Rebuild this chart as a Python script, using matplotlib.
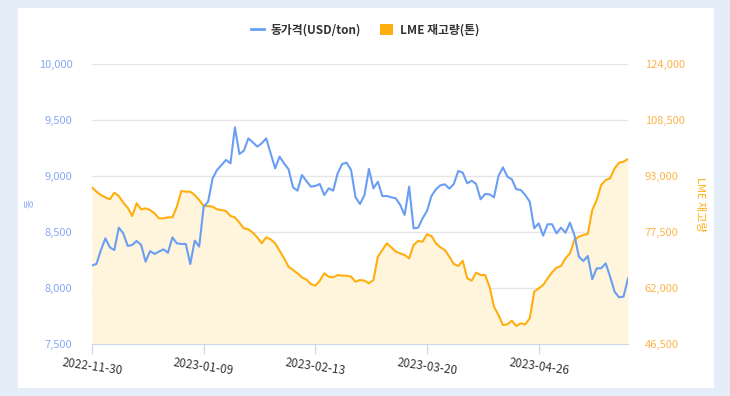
import numpy as np
import matplotlib.pyplot as plt
from matplotlib.lines import Line2D
from matplotlib.patches import Patch, Rectangle

plt.rcParams['font.family'] = ['Noto Sans CJK KR', 'DejaVu Sans']

# copper price (USD/ton), daily
copper_price = [
    8200, 8215, 8339, 8444, 8363, 8339, 8539, 8488, 8375, 8384,
    8420, 8384, 8235, 8330, 8304, 8325, 8345, 8315, 8452, 8399,
    8393, 8393, 8214, 8423, 8370, 8726, 8771, 8979, 9054, 9098,
    9143, 9113, 9435, 9196, 9226, 9336, 9301, 9262, 9292, 9336,
    9202, 9068, 9173, 9113, 9060, 8899, 8869, 9009, 8955, 8905,
    8911, 8929, 8830, 8890, 8869, 9024, 9107, 9119, 9054, 8810,
    8750, 8830, 9063, 8890, 8949, 8821, 8821, 8810, 8801, 8741,
    8652, 8905, 8533, 8538, 8621, 8688, 8821, 8881, 8917, 8926,
    8887, 8929, 9045, 9030, 8935, 8958, 8929, 8792, 8839, 8836,
    8810, 9000, 9077, 8994, 8970, 8881, 8875, 8830, 8771, 8533,
    8577, 8467, 8569, 8569, 8488, 8539, 8494, 8583, 8473, 8280,
    8241, 8286, 8078, 8176, 8176, 8220, 8101, 7967, 7917, 7923,
    8086,
]

# LME copper stock (ton)
lme_stock = [
    89863, 88664, 87741, 87095, 86542, 88387, 87464, 85619, 84235, 81929,
    85435, 83774, 84051, 83590, 82667, 81283, 81283, 81560, 81560, 84512,
    88848, 88664, 88664, 87741, 86357, 84697, 84697, 84512, 83774, 83590,
    83313, 81929, 81560, 80084, 78516, 78239, 77316, 76024, 74364, 76024,
    75471, 74364, 72334, 70212, 67906, 66983, 66061, 64954, 64308, 63109,
    62647, 64031, 66061, 65138, 64954, 65600, 65415, 65415, 65138, 63755,
    64216, 64031, 63293, 64216, 70674, 72519, 74364, 73257, 72058, 71596,
    71135, 70212, 73902, 75010, 74825, 76855, 76394, 74364, 73257, 72519,
    70674, 68644, 68090, 69566, 64677, 64031, 66245, 65600, 65600, 62370,
    56833, 54528, 51760, 51944, 52959, 51483, 52221, 51944, 53605, 60986,
    61909, 62831, 64677, 66337, 67629, 68090, 70212, 71596, 75286, 76209,
    76670, 76947, 83590, 86357, 90509, 91893, 92354, 95121, 96690, 96967,
    97705,
]

tick_labels = ['2022-11-30', '2023-01-09', '2023-02-13', '2023-03-20', '2023-04-26']
tick_pos = [0, 25, 50, 75, 100]

left_ticks = [7500, 8000, 8500, 9000, 9500, 10000]
right_ticks = [46500, 62000, 77500, 93000, 108500, 124000]

BLUE = '#6A9EF2'
ORANGE = '#FFAE0F'
FILL = '#FFF5DD'

fig = plt.figure(figsize=(7.3, 3.96), dpi=100)
fig.patch.set_facecolor('#E4EDF8')
fig.add_artist(Rectangle((18 / 730, 8 / 396), (714 - 18) / 730, (388 - 8) / 396,
                         transform=fig.transFigure, facecolor='white',
                         edgecolor='none', zorder=-1))

ax = fig.add_axes([92 / 730, 1 - 344 / 396, 536 / 730, 280 / 396])
ax2 = ax.twinx()
ax.set_zorder(ax2.get_zorder() + 1)
ax.patch.set_visible(False)
ax2.patch.set_visible(False)

x = np.arange(len(copper_price))

# stock area (right axis)
ax2.fill_between(x, lme_stock, right_ticks[0], color=FILL, lw=0, zorder=2)
ax2.plot(x, lme_stock, color=ORANGE, lw=1.5, zorder=3)
ax2.set_ylim(right_ticks[0], right_ticks[-1])
ax2.set_yticks(right_ticks)
ax2.set_yticklabels([f'{v:,}' for v in right_ticks])
ax2.grid(axis='y', color='#E6E6E6', lw=1, zorder=0)
ax2.set_axisbelow(True)

# copper price (left axis)
ax.plot(x, copper_price, color=BLUE, lw=1.5)
ax.set_ylim(left_ticks[0], left_ticks[-1])
ax.set_yticks(left_ticks)
ax.set_yticklabels([f'{v:,}' for v in left_ticks])
ax.set_xlim(0, len(copper_price) - 1)
ax.set_xticks(tick_pos)
ax.set_xticklabels(tick_labels, rotation=-8, fontsize=8.5, color='#333333')

for a in (ax, ax2):
    for s in a.spines.values():
        s.set_visible(False)
ax.spines['bottom'].set_visible(True)
ax.spines['bottom'].set_color('#CCD6EB')
ax.tick_params(axis='x', length=7, color='#CCD6EB', pad=2)
ax.tick_params(axis='y', length=0, pad=14, labelsize=8, labelcolor='#86A9F5')
ax2.tick_params(axis='y', length=0, pad=12, labelsize=8, labelcolor='#FDB54A')

ax.text(-0.116, 0.5, '동', transform=ax.transAxes, rotation=90,
        ha='center', va='center', fontsize=7, color='#86A9F5')
ax2.text(1.134, 0.5, 'LME 재고량', transform=ax.transAxes, rotation=270,
         ha='center', va='center', fontsize=8, color=ORANGE)

handles = [Line2D([0], [0], color=BLUE, lw=2),
           Patch(facecolor=ORANGE, edgecolor='none')]
leg = fig.legend(handles, ['동가격(USD/ton)', 'LME 재고량(톤)'], loc='center',
                 bbox_to_anchor=(0.5, 1 - 30 / 396), ncol=2, frameon=False,
                 handlelength=1.1, handleheight=1.0, handletextpad=0.6,
                 columnspacing=1.6, prop={'size': 8.5, 'weight': 'bold'})
for t in leg.get_texts():
    t.set_color('#333333')

fig.savefig('out.png', dpi=100)
